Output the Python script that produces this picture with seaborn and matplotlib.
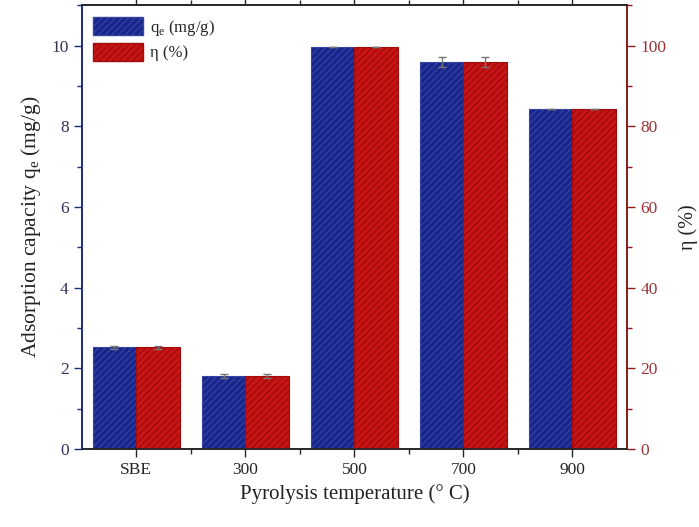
import pandas as pd
import seaborn as sns
import matplotlib.pyplot as plt
import numpy as np
from matplotlib.ticker import MultipleLocator, FixedLocator
from matplotlib.patches import Patch

# Data
temps = ['SBE', '300', '500', '700', '900']
qe = [2.52, 1.80, 9.97, 9.60, 8.43]
qe_err = [0.03, 0.05, 0.0, 0.12, 0.0]
eta = [25.2, 18.0, 99.7, 96.0, 84.3]
eta_err = [0.3, 0.5, 0.0, 1.2, 0.0]

sns.set_style('ticks')
plt.rcParams['font.family'] = ['Liberation Serif', 'DejaVu Serif']
plt.rcParams['mathtext.fontset'] = 'custom'
plt.rcParams['mathtext.rm'] = 'Liberation Serif'
plt.rcParams['hatch.linewidth'] = 0.9

blue, blue_edge = '#18258c', '#34449f'
red, red_edge = '#c81414', '#a00c0c'
left_col, right_col = '#1c2a7a', '#8b1a1a'
HATCH = '/////'

# long table: each axis gets its own column, the other series left empty
df = pd.DataFrame({
    'temp': temps * 2,
    'series': ['qe'] * 5 + ['eta'] * 5,
    'qe_val': qe + [np.nan] * 5,
    'eta_val': [np.nan] * 5 + eta,
})
pal = {'qe': blue, 'eta': red}

fig, ax = plt.subplots(figsize=(6.99, 5.27), dpi=100)
ax2 = ax.twinx()

sns.barplot(data=df, x='temp', y='qe_val', hue='series', hue_order=['qe', 'eta'],
            palette=pal, order=temps, width=0.8, errorbar=None, ax=ax,
            legend=False, saturation=1)
sns.barplot(data=df, x='temp', y='eta_val', hue='series', hue_order=['qe', 'eta'],
            palette=pal, order=temps, width=0.8, errorbar=None, ax=ax2,
            legend=False, saturation=1)

for a, ec in ((ax, blue_edge), (ax2, red_edge)):
    for p in a.patches:
        p.set_hatch(HATCH)
        p.set_edgecolor(ec)
        p.set_linewidth(0.8)


# error bars at bar centres
def centres(a):
    bars = sorted((p for p in a.patches if p.get_height() > 0), key=lambda p: p.get_x())
    return [p.get_x() + p.get_width() / 2 for p in bars]


ax.errorbar(centres(ax), qe, yerr=qe_err, fmt='none', ecolor='#777777',
            elinewidth=1, capsize=3)
ax2.errorbar(centres(ax2), eta, yerr=eta_err, fmt='none', ecolor='#777777',
             elinewidth=1, capsize=3)

ax.set_xlim(-0.5, 4.5)
ax.set_ylim(0, 11)
ax2.set_ylim(0, 110)

ax.yaxis.set_major_locator(MultipleLocator(2))
ax.yaxis.set_minor_locator(MultipleLocator(1))
ax2.yaxis.set_major_locator(MultipleLocator(20))
ax2.yaxis.set_minor_locator(MultipleLocator(10))
ax.xaxis.set_minor_locator(FixedLocator(np.arange(0.5, 4.5, 1)))

ax.set_xlabel('Pyrolysis temperature (° C)', fontsize=15, color='#222222')
ax.set_ylabel('Adsorption capacity q$_\\mathregular{e}$ (mg/g)', fontsize=15.5,
              color='#222222', labelpad=6)
ax2.set_ylabel('η (%)', fontsize=14.5, color='#222222', labelpad=9)

ax.tick_params(axis='y', which='major', length=6, width=1, colors=left_col,
               labelsize=12.5, labelcolor='#33335a')
ax.tick_params(axis='y', which='minor', length=3.5, width=1, colors=left_col)
ax2.tick_params(axis='y', which='major', length=6, width=1, colors=right_col,
                labelsize=12.5, labelcolor='#9a3535')
ax2.tick_params(axis='y', which='minor', length=3.5, width=1, colors=right_col)
ax.tick_params(axis='x', which='major', length=6, width=1, labelsize=12.5,
               top=True, direction='out')
ax.tick_params(axis='x', which='minor', length=3.5, width=1, top=True)

ax2.spines['left'].set_color(left_col)
ax2.spines['right'].set_color(right_col)
ax.spines['left'].set_color(left_col)
ax.spines['right'].set_color(right_col)
for a in (ax, ax2):
    for s in a.spines.values():
        s.set_linewidth(1.2)

# legend proxy handles
handles = [Patch(facecolor=blue, edgecolor=blue_edge, hatch=HATCH, label='q$_\\mathregular{e}$ (mg/g)'),
           Patch(facecolor=red, edgecolor=red_edge, hatch=HATCH, label='η (%)')]
ax2.legend(handles=handles, loc='upper left', frameon=False, fontsize=12,
           handlelength=3.0, handleheight=1.3, borderaxespad=0.3,
           labelspacing=0.3, handletextpad=0.4)

fig.subplots_adjust(left=0.117, right=0.897, top=0.99, bottom=0.148)
fig.savefig('out.png', dpi=100)
